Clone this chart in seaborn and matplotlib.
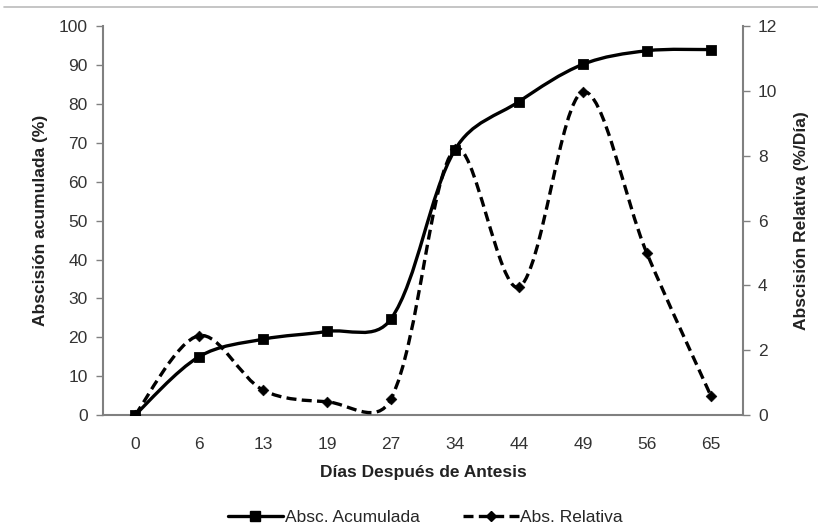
import numpy as np
import pandas as pd
import matplotlib.pyplot as plt
import seaborn as sns
from matplotlib.path import Path
from matplotlib.patches import PathPatch
from matplotlib.lines import Line2D

# Data
dias = ['0', '6', '13', '19', '27', '34', '44', '49', '56', '65']
acumulada = [0, 15.0, 19.5, 21.5, 24.7, 68.2, 80.6, 90.2, 93.7, 94.0]
relativa = [0, 2.45, 0.77, 0.41, 0.49, 8.2, 3.95, 9.97, 5.0, 0.6]

df = pd.DataFrame({'Dias': dias, 'pos': np.arange(len(dias)),
                   'Acumulada': acumulada, 'Relativa': relativa})

sns.set_style('white')
plt.rcParams['font.family'] = ['Liberation Sans', 'DejaVu Sans']

fig = plt.figure(figsize=(8.18, 5.25), dpi=100)
ax = fig.add_axes([0.126, 0.2095, 0.782, 0.7405])
ax2 = ax.twinx()


def smooth_path(x, y, sx, sy):
    # smoothed line like Excel: cubic Bezier segments, tangents weighted by
    # sqrt of segment lengths on screen (sx, sy = pixels per data unit)
    pts = np.column_stack([x, y]).astype(float)
    scr = pts * [sx, sy]
    n = len(pts)

    def d(i, j):
        return np.sqrt(np.hypot(*(scr[j] - scr[i])))

    verts = [pts[0]]
    codes = [Path.MOVETO]
    for i in range(n - 1):
        i0, i3 = max(i - 1, 0), min(i + 2, n - 1)
        d01, d12, d23 = d(i0, i), d(i, i + 1), d(i + 1, i3)
        f1 = d12 / (d01 + d12) / 3 if d01 > 0 else 1 / 6
        f2 = d12 / (d12 + d23) / 3 if d23 > 0 else 1 / 6
        c1 = pts[i] + (pts[i + 1] - pts[i0]) * f1
        c2 = pts[i + 1] - (pts[i3] - pts[i]) * f2
        verts += [c1, c2, pts[i + 1]]
        codes += [Path.CURVE4] * 3
    return Path(verts, codes)


dash = (0, (3, 1.6))
ax.add_patch(PathPatch(smooth_path(df['pos'], df['Acumulada'], 64, 3.89), fill=False,
                       edgecolor='black', lw=2.4, zorder=3))
sns.scatterplot(data=df, x='pos', y='Acumulada', marker='s', s=50, color='black',
                edgecolor='black', ax=ax, zorder=4, legend=False)

ax2.add_patch(PathPatch(smooth_path(df['pos'], df['Relativa'], 64, 32.4), fill=False,
                        edgecolor='black', lw=2.4, linestyle=dash, zorder=3))
sns.scatterplot(data=df, x='pos', y='Relativa', marker='D', s=30, color='black',
                edgecolor='black', ax=ax2, zorder=4, legend=False)

ax.set_xlim(-0.5, len(dias) - 0.5)
ax.set_ylim(0, 100)
ax2.set_ylim(0, 12)
ax.set_xticks(df['pos'])
ax.set_xticklabels(dias)
ax.set_yticks(np.arange(0, 101, 10))
ax2.set_yticks(np.arange(0, 13, 2))

grey = '#808080'
txt = '#333333'
for a in (ax, ax2):
    for s in a.spines.values():
        s.set_visible(False)
ax.spines['left'].set_visible(True)
ax.spines['bottom'].set_visible(True)
ax2.spines['right'].set_visible(True)
for s in (ax.spines['left'], ax.spines['bottom'], ax2.spines['right']):
    s.set_color(grey)
    s.set_linewidth(1.5)

ax.tick_params(axis='y', left=True, length=5, width=1, color=grey,
               labelsize=12.5, labelcolor=txt, pad=6)
ax.tick_params(axis='x', bottom=False, labelsize=12.5, labelcolor=txt, pad=12)
ax2.tick_params(axis='y', right=True, length=5, width=1, color=grey,
                labelsize=12.5, labelcolor=txt, pad=6)

lab = dict(fontsize=12.5, fontweight='bold', color='#222222')
ax.set_xlabel('Días Después de Antesis', labelpad=10, **lab)
ax.set_ylabel('Abscisión acumulada (%)', labelpad=8, **lab)
ax2.set_ylabel('Abscisión Relativa (%/Día)', labelpad=12, **lab)

handles = [
    Line2D([], [], color='black', lw=2.4, marker='s', markersize=7),
    Line2D([], [], color='black', lw=2.4, linestyle=dash, marker='D', markersize=5),
]
fig.legend(handles, ['Absc. Acumulada', 'Abs. Relativa'], loc='lower center',
           bbox_to_anchor=(0.52, -0.03), ncol=2, frameon=False, fontsize=12.5,
           handlelength=3.2, handletextpad=0.1, columnspacing=2.5)

fig.add_artist(Line2D([0.005, 1.0], [0.986, 0.986], color='#bbbbbb', lw=1.2))

fig.savefig('out.png', dpi=100)
